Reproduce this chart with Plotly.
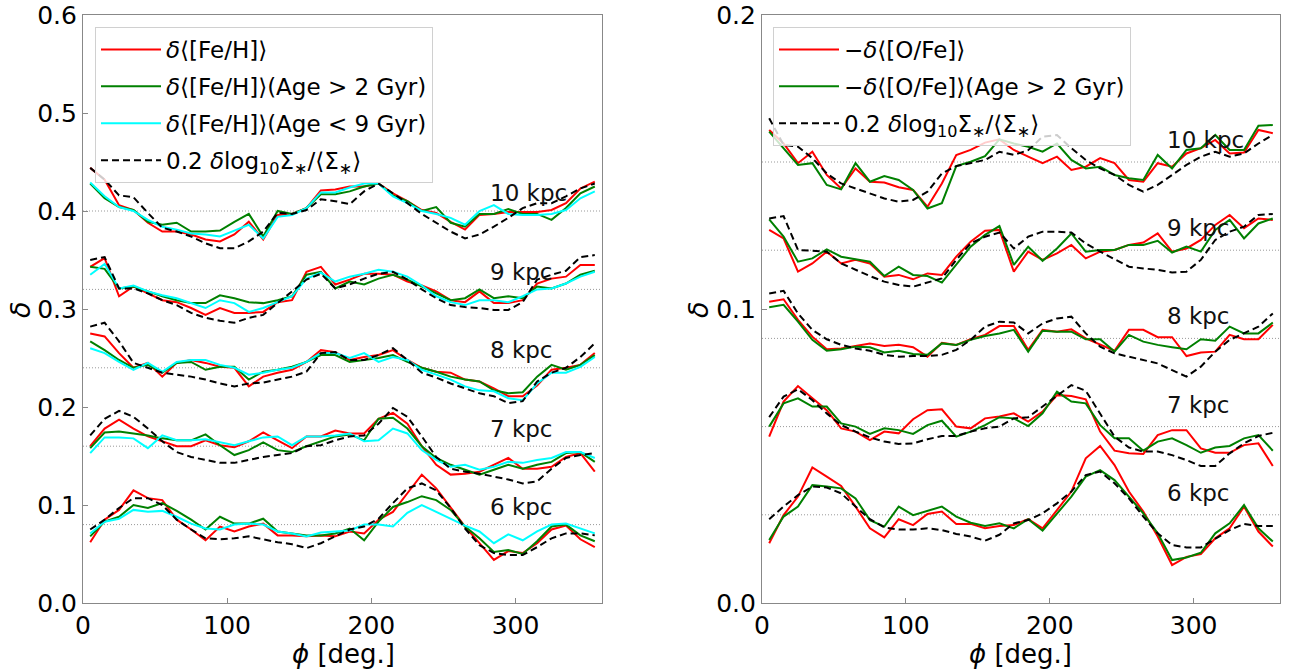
import plotly.graph_objects as go

phi = [5 + 10 * i for i in range(36)]
radii = ["6 kpc", "7 kpc", "8 kpc", "9 kpc", "10 kpc"]

# ---------------- left panel: delta <[Fe/H]> ----------------
left_base = [0.08, 0.16, 0.24, 0.32, 0.40]

feh_all = {
    "10 kpc": [0.444,0.432,0.406,0.401,0.388,0.379,0.379,0.376,0.371,0.369,0.376,0.389,0.371,0.396,0.397,0.403,0.421,0.422,0.425,
               0.425,0.428,0.418,0.410,0.401,0.398,0.389,0.381,0.396,0.397,0.399,0.399,0.399,0.401,0.408,0.423,0.430],
    "9 kpc": [0.343,0.352,0.313,0.323,0.316,0.309,0.307,0.301,0.294,0.301,0.296,0.296,0.297,0.307,0.309,0.338,0.343,0.325,0.330,
              0.336,0.336,0.335,0.328,0.324,0.318,0.309,0.307,0.318,0.306,0.306,0.309,0.326,0.331,0.333,0.345,0.345],
    "8 kpc": [0.275,0.272,0.255,0.240,0.245,0.231,0.245,0.248,0.245,0.241,0.240,0.221,0.231,0.235,0.238,0.246,0.258,0.256,0.248,
              0.251,0.253,0.258,0.248,0.240,0.236,0.235,0.228,0.226,0.219,0.211,0.211,0.222,0.238,0.240,0.243,0.255],
    "7 kpc": [0.160,0.178,0.187,0.178,0.170,0.165,0.160,0.160,0.166,0.161,0.159,0.165,0.174,0.166,0.158,0.170,0.170,0.176,0.173,
              0.173,0.188,0.194,0.183,0.160,0.141,0.131,0.132,0.134,0.141,0.148,0.137,0.137,0.139,0.149,0.153,0.134],
    "6 kpc": [0.062,0.085,0.095,0.115,0.107,0.105,0.085,0.075,0.064,0.078,0.073,0.078,0.081,0.069,0.069,0.068,0.069,0.068,0.073,
              0.071,0.085,0.093,0.112,0.131,0.117,0.097,0.078,0.061,0.044,0.053,0.051,0.061,0.075,0.079,0.065,0.057],
}
feh_old = {
    "10 kpc": [0.428,0.413,0.404,0.401,0.389,0.386,0.388,0.379,0.379,0.380,0.389,0.397,0.374,0.400,0.397,0.403,0.417,0.417,0.420,
               0.425,0.428,0.416,0.410,0.400,0.404,0.388,0.384,0.397,0.397,0.402,0.397,0.397,0.391,0.403,0.418,0.425],
    "9 kpc": [0.343,0.341,0.321,0.323,0.318,0.313,0.309,0.306,0.306,0.314,0.311,0.307,0.306,0.309,0.313,0.335,0.338,0.321,0.328,
              0.325,0.331,0.335,0.330,0.323,0.316,0.309,0.311,0.320,0.311,0.313,0.311,0.323,0.321,0.326,0.335,0.339],
    "8 kpc": [0.267,0.258,0.248,0.240,0.243,0.235,0.245,0.246,0.238,0.241,0.241,0.228,0.236,0.238,0.241,0.246,0.253,0.253,0.246,
              0.248,0.250,0.253,0.246,0.240,0.236,0.231,0.228,0.226,0.217,0.214,0.215,0.231,0.243,0.238,0.243,0.253],
    "7 kpc": [0.158,0.174,0.175,0.173,0.171,0.168,0.166,0.166,0.172,0.161,0.151,0.156,0.164,0.156,0.154,0.160,0.165,0.170,0.172,
              0.166,0.188,0.189,0.178,0.160,0.148,0.141,0.136,0.131,0.136,0.141,0.137,0.141,0.144,0.153,0.154,0.144],
    "6 kpc": [0.068,0.083,0.088,0.100,0.097,0.102,0.094,0.085,0.075,0.088,0.081,0.081,0.086,0.073,0.071,0.069,0.069,0.071,0.076,
              0.064,0.083,0.098,0.103,0.109,0.105,0.095,0.078,0.066,0.052,0.054,0.050,0.063,0.078,0.080,0.069,0.063],
}
feh_young = {
    "10 kpc": [0.429,0.415,0.404,0.400,0.391,0.384,0.381,0.377,0.376,0.374,0.380,0.386,0.372,0.394,0.396,0.403,0.419,0.419,0.424,
               0.428,0.428,0.415,0.408,0.400,0.397,0.393,0.386,0.400,0.406,0.397,0.396,0.396,0.397,0.401,0.413,0.420],
    "9 kpc": [0.335,0.346,0.321,0.324,0.318,0.314,0.311,0.306,0.301,0.309,0.306,0.297,0.301,0.307,0.313,0.331,0.337,0.328,0.333,
              0.336,0.340,0.338,0.333,0.324,0.313,0.307,0.304,0.309,0.309,0.307,0.313,0.320,0.321,0.326,0.333,0.338],
    "8 kpc": [0.260,0.255,0.246,0.238,0.245,0.236,0.246,0.248,0.248,0.243,0.240,0.233,0.235,0.238,0.240,0.246,0.255,0.255,0.250,
              0.255,0.246,0.251,0.248,0.238,0.233,0.228,0.221,0.217,0.216,0.209,0.207,0.224,0.235,0.235,0.241,0.251],
    "7 kpc": [0.153,0.169,0.169,0.168,0.158,0.171,0.166,0.166,0.167,0.164,0.161,0.165,0.169,0.170,0.161,0.170,0.170,0.171,0.173,
              0.165,0.166,0.178,0.173,0.156,0.146,0.139,0.141,0.136,0.139,0.144,0.143,0.146,0.148,0.154,0.154,0.148],
    "6 kpc": [0.071,0.083,0.086,0.095,0.093,0.094,0.088,0.081,0.076,0.075,0.080,0.081,0.080,0.073,0.071,0.068,0.072,0.073,0.074,
              0.080,0.080,0.078,0.092,0.100,0.093,0.086,0.079,0.073,0.061,0.070,0.064,0.073,0.080,0.081,0.076,0.071],
}
sigma_left = {
    "10 kpc": [0.444,0.432,0.416,0.414,0.398,0.383,0.379,0.374,0.367,0.362,0.362,0.369,0.379,0.398,0.397,0.401,0.412,0.410,0.407,
               0.420,0.428,0.418,0.408,0.397,0.388,0.379,0.372,0.376,0.384,0.393,0.403,0.408,0.408,0.415,0.423,0.428],
    "9 kpc": [0.350,0.353,0.321,0.321,0.316,0.309,0.304,0.296,0.291,0.288,0.286,0.291,0.294,0.306,0.318,0.330,0.336,0.321,0.325,
              0.331,0.336,0.338,0.330,0.320,0.311,0.304,0.302,0.301,0.299,0.299,0.307,0.330,0.335,0.339,0.353,0.355],
    "8 kpc": [0.282,0.286,0.267,0.245,0.240,0.235,0.233,0.231,0.228,0.224,0.221,0.224,0.225,0.228,0.231,0.236,0.255,0.256,0.248,
              0.248,0.253,0.260,0.248,0.235,0.230,0.224,0.219,0.214,0.211,0.204,0.206,0.226,0.235,0.240,0.251,0.265],
    "7 kpc": [0.171,0.188,0.196,0.190,0.178,0.165,0.154,0.149,0.146,0.143,0.143,0.146,0.149,0.151,0.153,0.160,0.161,0.166,0.170,
              0.171,0.183,0.199,0.190,0.170,0.149,0.137,0.134,0.132,0.129,0.126,0.122,0.124,0.137,0.148,0.151,0.153],
    "6 kpc": [0.075,0.085,0.097,0.107,0.107,0.100,0.085,0.075,0.066,0.065,0.066,0.068,0.065,0.062,0.060,0.056,0.061,0.068,0.075,
              0.078,0.086,0.102,0.117,0.122,0.115,0.097,0.076,0.059,0.051,0.049,0.049,0.057,0.066,0.071,0.071,0.069],
}

# ---------------- right panel: -delta <[O/Fe]> ----------------
right_base = [0.03, 0.06, 0.09, 0.12, 0.15]

ofe_all = {
    "10 kpc": [0.1609,0.1563,0.1496,0.1535,0.1456,0.1410,0.1478,0.1433,0.1430,0.1414,0.1405,0.1348,0.1427,0.1524,0.1541,0.1566,0.1577,
               0.1541,0.1518,0.1496,0.1518,0.1473,0.1484,0.1513,0.1496,0.1439,0.1433,0.1496,0.1484,0.1529,0.1547,0.1575,0.1529,0.1532,0.1609,0.1598],
    "9 kpc": [0.1269,0.1240,0.1127,0.1155,0.1195,0.1155,0.1167,0.1155,0.1110,0.1116,0.1101,0.1121,0.1116,0.1178,0.1229,0.1266,0.1269,
              0.1127,0.1195,0.1167,0.1189,0.1218,0.1172,0.1195,0.1201,0.1218,0.1226,0.1257,0.1195,0.1206,0.1235,0.1286,0.1320,0.1275,0.1308,0.1303],
    "8 kpc": [0.1025,0.1033,0.0963,0.0906,0.0863,0.0866,0.0874,0.0883,0.0874,0.0878,0.0870,0.0838,0.0885,0.0878,0.0897,0.0912,0.0942,
              0.0942,0.0861,0.0929,0.0923,0.0931,0.0900,0.0878,0.0858,0.0929,0.0929,0.0904,0.0904,0.0840,0.0852,0.0855,0.0912,0.0897,0.0897,0.0946],
    "7 kpc": [0.0566,0.0685,0.0738,0.0696,0.0656,0.0594,0.0583,0.0554,0.0583,0.0577,0.0625,0.0656,0.0659,0.0600,0.0594,0.0628,0.0634,
              0.0645,0.0617,0.0651,0.0707,0.0704,0.0693,0.0583,0.0518,0.0509,0.0507,0.0571,0.0588,0.0588,0.0526,0.0511,0.0511,0.0537,0.0543,0.0466],
    "6 kpc": [0.0203,0.0299,0.0362,0.0461,0.0430,0.0398,0.0328,0.0254,0.0223,0.0285,0.0265,0.0303,0.0311,0.0269,0.0269,0.0254,0.0262,
              0.0265,0.0285,0.0254,0.0316,0.0379,0.0492,0.0534,0.0469,0.0379,0.0311,0.0226,0.0129,0.0157,0.0166,0.0220,0.0254,0.0328,0.0243,0.0192],
}
ofe_old = {
    "10 kpc": [0.1603,0.1547,0.1490,0.1496,0.1422,0.1407,0.1496,0.1433,0.1452,0.1439,0.1405,0.1342,0.1360,0.1486,0.1501,0.1520,0.1577,
               0.1563,0.1552,0.1535,0.1563,0.1507,0.1478,0.1484,0.1456,0.1445,0.1439,0.1524,0.1478,0.1541,0.1547,0.1592,0.1541,0.1541,0.1623,0.1626],
    "9 kpc": [0.1305,0.1246,0.1161,0.1172,0.1203,0.1178,0.1169,0.1161,0.1112,0.1144,0.1116,0.1112,0.1090,0.1150,0.1212,0.1252,0.1282,
              0.1150,0.1212,0.1164,0.1206,0.1257,0.1195,0.1201,0.1201,0.1218,0.1218,0.1232,0.1192,0.1212,0.1195,0.1269,0.1303,0.1240,0.1291,0.1308],
    "8 kpc": [0.1006,0.1014,0.0957,0.0895,0.0858,0.0863,0.0872,0.0870,0.0852,0.0858,0.0847,0.0844,0.0883,0.0878,0.0895,0.0908,0.0917,
              0.0929,0.0855,0.0926,0.0923,0.0923,0.0897,0.0897,0.0855,0.0912,0.0889,0.0878,0.0870,0.0863,0.0897,0.0892,0.0940,0.0917,0.0917,0.0954],
    "7 kpc": [0.0600,0.0679,0.0696,0.0668,0.0668,0.0611,0.0600,0.0575,0.0594,0.0588,0.0575,0.0605,0.0620,0.0566,0.0583,0.0605,0.0632,
              0.0628,0.0602,0.0645,0.0719,0.0685,0.0679,0.0605,0.0560,0.0560,0.0518,0.0549,0.0560,0.0537,0.0511,0.0529,0.0534,0.0560,0.0571,0.0518],
    "6 kpc": [0.0214,0.0294,0.0328,0.0401,0.0396,0.0390,0.0356,0.0282,0.0260,0.0328,0.0299,0.0314,0.0328,0.0294,0.0273,0.0262,0.0271,
              0.0254,0.0285,0.0246,0.0305,0.0362,0.0430,0.0452,0.0418,0.0362,0.0305,0.0237,0.0146,0.0155,0.0171,0.0237,0.0271,0.0333,0.0254,0.0209],
}
sigma_right = {
    "10 kpc": [0.1649,0.1558,0.1552,0.1513,0.1461,0.1427,0.1410,0.1393,0.1376,0.1365,0.1371,0.1399,0.1461,0.1486,0.1496,0.1507,0.1535,
               0.1524,0.1540,0.1586,0.1592,0.1547,0.1507,0.1478,0.1456,0.1422,0.1399,0.1422,0.1456,0.1490,0.1518,0.1535,0.1518,0.1529,0.1563,0.1592],
    "9 kpc": [0.1308,0.1316,0.1201,0.1198,0.1195,0.1155,0.1133,0.1112,0.1093,0.1082,0.1076,0.1090,0.1104,0.1167,0.1223,0.1246,0.1260,
              0.1206,0.1246,0.1263,0.1263,0.1260,0.1223,0.1195,0.1169,0.1144,0.1138,0.1133,0.1124,0.1127,0.1167,0.1235,0.1263,0.1280,0.1320,0.1323],
    "8 kpc": [0.1053,0.1062,0.0985,0.0929,0.0897,0.0878,0.0866,0.0858,0.0844,0.0838,0.0840,0.0840,0.0844,0.0861,0.0895,0.0940,0.0957,
              0.0954,0.0917,0.0951,0.0968,0.0974,0.0917,0.0872,0.0849,0.0838,0.0827,0.0815,0.0792,0.0770,0.0804,0.0855,0.0895,0.0917,0.0940,0.0985],
    "7 kpc": [0.0632,0.0702,0.0727,0.0690,0.0645,0.0605,0.0583,0.0563,0.0549,0.0541,0.0543,0.0557,0.0568,0.0568,0.0583,0.0594,0.0600,
              0.0628,0.0632,0.0668,0.0702,0.0741,0.0722,0.0645,0.0566,0.0529,0.0515,0.0515,0.0503,0.0486,0.0466,0.0466,0.0509,0.0543,0.0568,0.0579],
    "6 kpc": [0.0285,0.0328,0.0367,0.0396,0.0393,0.0373,0.0328,0.0285,0.0257,0.0250,0.0250,0.0254,0.0248,0.0235,0.0226,0.0212,0.0232,
              0.0271,0.0282,0.0305,0.0339,0.0379,0.0435,0.0447,0.0407,0.0356,0.0294,0.0237,0.0197,0.0189,0.0189,0.0220,0.0248,0.0269,0.0262,0.0262],
}

left_labels = ["<i>δ</i>⟨[Fe/H]⟩",
               "<i>δ</i>⟨[Fe/H]⟩(Age &gt; 2 Gyr)",
               "<i>δ</i>⟨[Fe/H]⟩(Age &lt; 9 Gyr)",
               "0.2 <i>δ</i>log<sub>10</sub>Σ<sub>∗</sub>/⟨Σ<sub>∗</sub>⟩"]
right_labels = ["−<i>δ</i>⟨[O/Fe]⟩",
                "−<i>δ</i>⟨[O/Fe]⟩(Age &gt; 2 Gyr)",
                "0.2 <i>δ</i>log<sub>10</sub>Σ<sub>∗</sub>/⟨Σ<sub>∗</sub>⟩"]

FONT = "DejaVu Sans"
W, H = 1289, 670
fig = go.Figure()

def add_series(data, name, color, dash, xa, ya, legend):
    for i, r in enumerate(radii):
        fig.add_trace(go.Scatter(
            x=phi, y=data[r], mode="lines", name=name,
            line=dict(color=color, width=2, dash=dash),
            xaxis=xa, yaxis=ya, legend=legend,
            legendgroup=legend + name, showlegend=(i == 0)))

add_series(feh_all, left_labels[0], "#ff0000", "solid", "x", "y", "legend")
add_series(feh_old, left_labels[1], "#008000", "solid", "x", "y", "legend")
add_series(feh_young, left_labels[2], "#00ffff", "solid", "x", "y", "legend")
add_series(sigma_left, left_labels[3], "black", "7px,4px", "x", "y", "legend")

add_series(ofe_all, right_labels[0], "#ff0000", "solid", "x2", "y2", "legend2")
add_series(ofe_old, right_labels[1], "#008000", "solid", "x2", "y2", "legend2")
add_series(sigma_right, right_labels[2], "black", "7px,4px", "x2", "y2", "legend2")

shapes = []
for b in left_base:
    shapes.append(dict(type="line", xref="x domain", yref="y", x0=0, x1=1, y0=b, y1=b,
                       line=dict(color="#999999", width=1, dash="1px,2px"), layer="below"))
for b in right_base:
    shapes.append(dict(type="line", xref="x2 domain", yref="y2", x0=0, x1=1, y0=b, y1=b,
                       line=dict(color="#999999", width=1, dash="1px,2px"), layer="below"))

annotations = []
for r, b in zip(radii, left_base):
    annotations.append(dict(x=281, y=b + 0.018, xref="x", yref="y", text=r, showarrow=False,
                            xanchor="left", yanchor="middle", font=dict(size=23, color="#111", family=FONT)))
for r, b in zip(radii, right_base):
    annotations.append(dict(x=280, y=b + 0.0075, xref="x2", yref="y2", text=r, showarrow=False,
                            xanchor="left", yanchor="middle", font=dict(size=23, color="#111", family=FONT)))
# axis titles
for xc in [343 / W, 1021 / W]:
    annotations.append(dict(x=xc, y=(H - 654) / H, xref="paper", yref="paper", text="<i>ϕ</i> [deg.]",
                            showarrow=False, xanchor="center", yanchor="middle",
                            font=dict(size=26, color="black", family=FONT)))
for xc in [20 / W, 698 / W]:
    annotations.append(dict(x=xc, y=(H - 310) / H, xref="paper", yref="paper", text="<i>δ</i>",
                            showarrow=False, xanchor="center", yanchor="middle", textangle=-90,
                            font=dict(size=27, color="black", family=FONT)))

axis_common = dict(showgrid=False, zeroline=False, showline=True, linecolor="#888888", linewidth=1.2,
                   mirror=True, ticks="inside", ticklen=5, tickcolor="#888888", automargin=False,
                   tickfont=dict(size=25, color="black", family=FONT))

legend_common = dict(bgcolor="rgba(255,255,255,0.8)", bordercolor="#d0d0d0", borderwidth=1,
                     font=dict(size=23, color="black", family=FONT), xanchor="left", yanchor="top",
                     tracegroupgap=4, itemwidth=60)

fig.update_layout(
    width=W, height=H, margin=dict(l=0, r=0, t=0, b=0, pad=0, autoexpand=False),
    paper_bgcolor="white", plot_bgcolor="white",
    font=dict(family=FONT),
    xaxis=dict(domain=[83 / W, 602 / W], range=[0, 360], tickvals=[0, 100, 200, 300],
               anchor="y", **axis_common),
    yaxis=dict(domain=[67 / H, 655 / H], range=[0, 0.6], tickvals=[0, 0.1, 0.2, 0.3, 0.4, 0.5, 0.6],
               ticktext=["0.0", "0.1", "0.2", "0.3", "0.4", "0.5", "0.6"], anchor="x", **axis_common),
    xaxis2=dict(domain=[762 / W, 1280 / W], range=[0, 360], tickvals=[0, 100, 200, 300],
                anchor="y2", **axis_common),
    yaxis2=dict(domain=[67 / H, 655 / H], range=[0, 0.2], tickvals=[0, 0.1, 0.2],
                ticktext=["0.0", "0.1", "0.2"], anchor="x2", **axis_common),
    legend=dict(x=95 / W, y=(H - 27) / H, **legend_common),
    legend2=dict(x=773 / W, y=(H - 27) / H, **legend_common),
    shapes=shapes, annotations=annotations,
)

fig.write_html("out.html", config={"displayModeBar": False},
               post_script="document.body.style.margin='0px';document.body.style.overflow='hidden';")
